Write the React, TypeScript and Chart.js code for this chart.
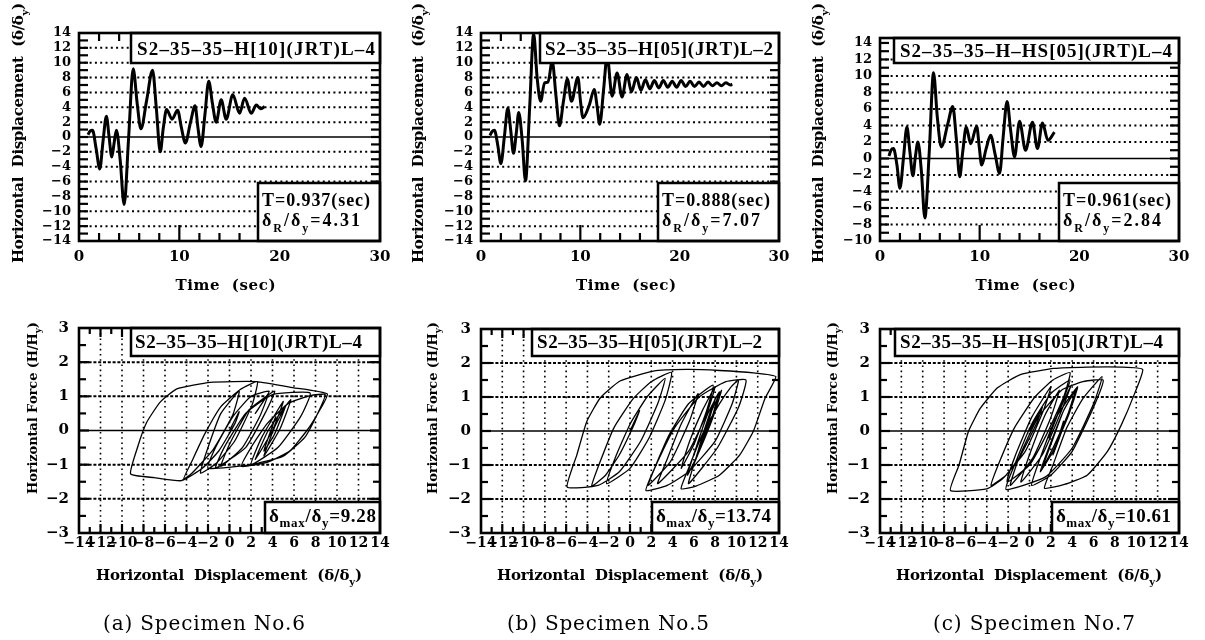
import React, { useEffect, useRef } from 'react';
import { Chart, registerables } from 'chart.js';

Chart.register(...registerables);

// ---------------- tick labels ----------------
const timeTicks = [0, 10, 20, 30];
const dispTicksFull = [-14, -12, -10, -8, -6, -4, -2, 0, 2, 4, 6, 8, 10, 12, 14];
const dispTicksShort = [-10, -8, -6, -4, -2, 0, 2, 4, 6, 8, 10, 12, 14];
const forceTicks = [-3, -2, -1, 0, 1, 2, 3];
const loopDispTicks = [-14, -12, -10, -8, -6, -4, -2, 0, 2, 4, 6, 8, 10, 12, 14];

// ---------------- text ----------------
const captions = ['(a) Specimen No.6', '(b) Specimen No.5', '(c) Specimen No.7'];
const specimenNames = ['S2\u201335\u201335\u2013H[10](JRT)L\u20134', 'S2\u201335\u201335\u2013H[05](JRT)L\u20132', 'S2\u201335\u201335\u2013H\u2013HS[05](JRT)L\u20134'];
const periods = ['0.937', '0.888', '0.961'];
const residuals = ['4.31', '7.07', '2.84'];
const maxima = ['9.28', '13.74', '10.61'];

// ---------------- specimen No.6 time history ----------------
const th6Time = [0.9, 1.1, 1.35, 1.7, 2.07, 2.4, 2.73, 3.0, 3.27, 3.5, 3.73, 4.1, 4.5, 4.95, 5.4, 5.8, 6.17, 6.75, 7.33, 7.7, 8.1, 8.4, 8.73, 9.27, 9.83, 10.2, 10.6, 11.1, 11.57, 11.85, 12.17, 12.55, 12.93, 13.3, 13.67, 14.17, 14.67, 15.33, 16.0, 16.5, 17.17, 17.67, 18.1, 18.5];
const th6Disp = [0.3, 0.8, 0.9, -1.5, -4.3, -0.5, 2.8, 0.0, -2.7, -0.8, 0.9, -3.0, -9.1, 0.0, 9.2, 4.5, 1.1, 5.0, 9.0, 4.0, -2.0, 1.2, 3.7, 2.4, 3.6, 1.3, -0.8, 1.9, 4.2, 1.3, -1.3, 3.0, 7.5, 4.5, 2.0, 5.0, 2.4, 5.7, 3.2, 5.2, 3.2, 4.3, 3.8, 4.1];

// ---------------- specimen No.5 time history ----------------
const th5Time = [0.9, 1.1, 1.35, 1.7, 2.0, 2.35, 2.7, 3.0, 3.27, 3.55, 3.8, 4.15, 4.48, 4.9, 5.3, 5.65, 6.0, 6.4, 6.75, 7.17, 7.55, 7.9, 8.3, 8.7, 9.1, 9.76, 10.0, 10.27, 10.9, 11.4, 11.7, 11.95, 12.35, 12.7, 13.2, 13.7, 14.2, 14.7, 15.15, 15.65, 16.1, 16.55, 17.0, 17.45, 17.9, 18.35, 18.8, 19.25, 19.7, 20.15, 20.6, 21.05, 21.5, 21.95, 22.4, 22.85, 23.3, 23.75, 24.2, 24.65, 25.1, 25.3];
const th5Disp = [0.2, 0.7, 0.9, -1.2, -3.6, 0.0, 3.9, 0.8, -2.2, 0.5, 3.3, -0.5, -5.9, 4.0, 13.9, 8.0, 4.8, 7.3, 7.4, 10.2, 5.5, 1.5, 4.8, 7.8, 4.8, 8.0, 5.0, 2.6, 4.3, 6.4, 4.0, 1.7, 6.5, 10.9, 5.5, 8.6, 5.4, 8.4, 6.1, 8.0, 6.3, 7.7, 6.5, 7.6, 6.6, 7.6, 6.7, 7.5, 6.7, 7.6, 6.8, 7.5, 6.8, 7.4, 6.8, 7.4, 6.9, 7.3, 6.9, 7.3, 7.0, 7.1];

// ---------------- specimen No.7 time history ----------------
const th7Time = [0.9, 1.1, 1.35, 1.7, 2.0, 2.35, 2.7, 3.0, 3.3, 3.55, 3.8, 4.15, 4.5, 4.95, 5.37, 5.75, 6.15, 6.8, 7.3, 7.65, 8.0, 8.3, 8.65, 9.1, 9.7, 9.95, 10.2, 10.65, 11.1, 11.55, 12.0, 12.35, 12.75, 13.1, 13.5, 14.0, 14.6, 15.3, 15.8, 16.3, 16.85, 17.5];
const th7Disp = [0.3, 1.0, 1.2, -0.8, -3.6, 0.0, 3.8, 0.8, -2.1, 0.2, 2.0, -1.5, -7.2, 1.0, 10.4, 5.0, 1.4, 4.2, 6.3, 2.5, -2.2, 0.8, 3.8, 1.8, 3.9, 1.5, -0.8, 1.2, 2.8, 0.5, -1.8, 2.5, 6.9, 3.5, 0.2, 4.5, 1.0, 4.4, 1.2, 4.3, 2.2, 3.2];

// ---------------- specimen No.6 hysteresis ----------------
const hy6Disp = [
  0, 0.9,
  0.5, -1.0, -2.5, -4.3,
  -3.5, -2.3, -0.8, 1.0, 2.6,
  2.1, 0.5, -1.2, -2.7,
  -2.0, -0.8, 0.9,
  0.3, -1.5, -3.5, -4.5, -7.0, -9.2,
  -8.5, -7.7, -6.45, -4.9, -1.8, 2.5, 6.0, 9.1,
  8.4, 7.2, 5.6, 3.5, 1.1,
  2.0, 3.5, 5.5, 7.5, 8.9,
  8.2, 7.0, 5.0, 2.0, -2.0,
  -1.3, 0.3, 2.0, 3.7,
  2.4,
  3.6,
  2.8, 1.2, -0.8,
  0.0, 1.8, 4.2,
  3.3, 1.5, -1.3,
  -0.5, 1.5, 4.0, 7.5,
  6.6, 4.5, 2.0,
  3.0, 5.0,
  4.0, 2.4,
  3.6, 5.7,
  4.7, 3.2,
  4.2, 5.2,
  4.2, 3.2,
  4.3, 4.1,
];
const hy6Force = [
  0, 0.55,
  0.2, -0.6, -1.1, -1.45,
  -0.9, -0.1, 0.7, 1.2, 1.43,
  0.75, -0.3, -0.95, -1.25,
  -0.5, 0.5, 1.15,
  0.45, -0.55, -1.25, -1.47, -1.38, -1.27,
  -0.44, 0.24, 0.83, 1.22, 1.41, 1.43, 1.25, 1.07,
  0.6, 0.0, -0.6, -0.93, -1.05,
  -0.5, 0.2, 0.8, 1.02, 1.05,
  0.5, -0.2, -0.75, -1.0, -1.1,
  -0.5, 0.4, 1.0, 1.15,
  0.5,
  1.05,
  0.4, -0.5, -1.05,
  -0.4, 0.6, 1.15,
  0.5, -0.5, -1.1,
  -0.5, 0.5, 1.05, 1.1,
  0.4, -0.5, -1.0,
  -0.2, 0.85,
  0.0, -0.85,
  0.0, 0.9,
  0.05, -0.75,
  0.1, 0.7,
  -0.1, -0.6,
  0.4, 0.25,
];

// ---------------- specimen No.5 hysteresis ----------------
const hy5Disp = [
  0, 0.9,
  0.4, -1.0, -2.3, -3.6,
  -2.8, -1.5, 0.3, 2.0, 3.9,
  3.3, 1.8, 0.0, -2.2,
  -1.4, 0.0, 1.6, 3.3,
  2.6, 1.0, -1.0, -3.0, -5.9,
  -5.0, -4.06, -2.8, -0.94, 2.2, 5.3, 8.4, 11.6, 13.7,
  12.7, 11.6, 10.3, 8.4, 6.2, 4.8,
  5.5, 6.8, 8.4, 9.5, 10.2,
  9.6, 8.0, 5.5, 3.5, 1.5,
  2.3, 3.7, 5.5, 7.8,
  7.2, 6.0, 4.8,
  5.6, 6.8, 8.0,
  7.2, 5.5, 2.6,
  3.4, 4.8, 6.4,
  5.6, 3.8, 1.7,
  2.6, 4.2, 6.5, 9.0, 10.9,
  10.2, 8.2, 5.5,
  6.3, 7.4, 8.6,
  7.8, 6.5, 5.4,
  6.3, 7.3, 8.4,
  7.6, 6.1,
  7.0, 8.0,
  7.2, 6.3,
  7.0, 7.7,
  6.6, 7.6, 6.7, 7.5, 6.8, 7.5, 6.8, 7.4, 6.9, 7.3, 7.07,
];
const hy5Force = [
  0, 0.6,
  0.2, -0.7, -1.3, -1.62,
  -0.9, 0.1, 0.95, 1.45, 1.72,
  0.9, -0.2, -1.1, -1.55,
  -0.8, 0.2, 1.0, 1.55,
  0.8, -0.3, -1.2, -1.6, -1.65,
  -0.71, 0.28, 0.97, 1.47, 1.76, 1.81, 1.78, 1.71, 1.6,
  0.97, 0.0, -0.71, -1.3, -1.62, -1.7,
  -1.1, -0.1, 0.8, 1.3, 1.5,
  0.8, -0.3, -1.2, -1.6, -1.75,
  -1.1, -0.1, 0.8, 1.35,
  0.6, -0.4, -1.1,
  -0.3, 0.6, 1.3,
  0.5, -0.6, -1.55,
  -0.9, 0.2, 1.1,
  0.3, -0.9, -1.6,
  -0.9, 0.1, 1.0, 1.45, 1.5,
  0.7, -0.5, -1.55,
  -0.7, 0.4, 1.2,
  0.4, -0.6, -1.3,
  -0.4, 0.5, 1.15,
  0.3, -0.9,
  0.0, 0.95,
  0.1, -0.7,
  0.05, 0.7,
  -0.5, 0.55, -0.45, 0.45, -0.35, 0.35, -0.3, 0.3, -0.25, 0.2, 0.0,
];

// ---------------- specimen No.7 hysteresis ----------------
const hy7Disp = [
  0, 1.2,
  0.7, -0.8, -2.2, -3.6,
  -2.8, -1.4, 0.5, 2.2, 3.8,
  3.2, 1.6, 0.0, -2.1,
  -1.3, 0.2, 2.0,
  1.3, -0.4, -2.5, -4.0, -7.4,
  -6.6, -5.7, -4.6, -3.0, -0.85, 2.3, 5.4, 8.6, 10.6,
  9.8, 8.6, 7.3, 5.4, 3.2, 1.4,
  2.2, 3.5, 5.0, 6.8,
  6.0, 4.0, 1.5, -2.2,
  -1.4, 0.2, 2.0, 3.8,
  3.0, 1.8,
  2.8, 3.9,
  3.0, 1.2, -0.8,
  0.0, 1.5, 2.8,
  2.0, 0.3, -1.8,
  -1.0, 0.8, 3.0, 5.0, 6.9,
  6.0, 4.0, 2.0, 0.2,
  1.0, 2.5, 4.5,
  3.7, 2.2, 1.0,
  1.8, 3.2, 4.4,
  3.6, 2.2, 1.2,
  2.0, 3.2, 4.3,
  3.5, 2.2,
  2.9, 3.2,
];
const hy7Force = [
  0, 0.7,
  0.25, -0.7, -1.3, -1.6,
  -0.9, 0.1, 1.0, 1.5, 1.72,
  1.0, -0.1, -1.0, -1.5,
  -0.7, 0.4, 1.3,
  0.6, -0.6, -1.4, -1.7, -1.75,
  -1.0, 0.0, 0.67, 1.27, 1.66, 1.84, 1.88, 1.88, 1.81,
  1.07, 0.18, -0.6, -1.3, -1.58, -1.68,
  -1.0, 0.1, 0.95, 1.6,
  0.8, -0.5, -1.35, -1.72,
  -1.0, 0.2, 1.1, 1.5,
  0.8, -0.2,
  0.6, 1.35,
  0.6, -0.7, -1.5,
  -0.7, 0.5, 1.2,
  0.4, -0.8, -1.6,
  -0.8, 0.4, 1.2, 1.45, 1.5,
  0.7, -0.6, -1.3, -1.6,
  -0.8, 0.4, 1.3,
  0.5, -0.6, -1.2,
  -0.5, 0.6, 1.25,
  0.5, -0.5, -1.1,
  -0.4, 0.6, 1.2,
  0.4, -0.7,
  0.0, 0.3,
];

// ---------------- drawing helpers ----------------
type Part = [string, number];
const FAM_AX = '"DejaVu Serif", serif';
const FAM_TX = '"Liberation Serif", serif';

function drawParts(ctx: CanvasRenderingContext2D, parts: Part[], x: number, baseline: number, size: number, weight: string, family: string, targetW?: number, align: 'left' | 'center' = 'left') {
  const chars: { c: string; sub: boolean; w: number }[] = [];
  const fontOf = (sub: boolean) => `${weight} ${sub ? Math.round(size * 0.68) : size}px ${family}`;
  for (const [s, sub] of parts) {
    for (const c of Array.from(s)) {
      ctx.font = fontOf(!!sub);
      chars.push({ c, sub: !!sub, w: ctx.measureText(c).width });
    }
  }
  const nat = chars.reduce((a, ch) => a + ch.w, 0);
  const total = targetW ?? nat;
  const ls = chars.length > 1 ? (total - nat) / (chars.length - 1) : 0;
  let cx = align === 'center' ? x - total / 2 : x;
  ctx.textAlign = 'left';
  ctx.textBaseline = 'alphabetic';
  ctx.fillStyle = '#000';
  for (const ch of chars) {
    ctx.font = fontOf(ch.sub);
    ctx.fillText(ch.c, cx, baseline + (ch.sub ? size * 0.3 : 0));
    cx += ch.w + ls;
  }
}

type Frame = { l: number; t: number; r: number; b: number };
interface TextLine { parts: Part[]; x: number; cy: number; w: number; size: number }
interface Spec {
  kind: 'time' | 'loop';
  frame: Frame;
  canvas: { x: number; y: number; w: number; h: number };
  xs: number[]; ys: number[];
  xMin: number; xMax: number; yMin: number; yMax: number;
  xTicks: number[]; yTicks: number[];
  xFont: number; yFont: number; xPad: number; yPad: number;
  titleBox: { l: number; b: number };
  title: TextLine;
  infoBox: { l: number; t: number };
  info: TextLine[];
  yTitle: { parts: Part[]; cx: number; cy: number; len: number; size: number };
  xTitle: { parts: Part[]; cx: number; cy: number; w: number };
  caption?: { text: string; cx: number; cy: number; w: number };
}

const dispTitle: Part[] = [['Horizontal  Displacement  (\u03b4/\u03b4', 0], ['y', 1], [')', 0]];
const forceTitle: Part[] = [['Horizontal Force (H/H', 0], ['y', 1], [')', 0]];
const timeTitle: Part[] = [['Time  (sec)', 0]];

const topFrames: Frame[] = [
  { l: 79, t: 33, r: 380, b: 241 },
  { l: 481, t: 33, r: 779, b: 241 },
  { l: 880, t: 38, r: 1179, b: 241 },
];
const botFrames: Frame[] = [
  { l: 79, t: 328, r: 380, b: 533 },
  { l: 481, t: 329, r: 779, b: 533 },
  { l: 880, t: 329, r: 1179, b: 533 },
];
const canvasX = [0, 402, 801];
const canvasW = [400, 400, 404];

const thT = [th6Time, th5Time, th7Time];
const thD = [th6Disp, th5Disp, th7Disp];
const hyD = [hy6Disp, hy5Disp, hy7Disp];
const hyF = [hy6Force, hy5Force, hy7Force];

const topTitleBox = [131, 540, 894];
const topTitleText = [{ x: 137, w: 238 }, { x: 545, w: 228 }, { x: 900, w: 272 }];
const topInfoBox = [258, 658, 1059];
const botTitleBox = [131, 532, 895];
const botTitleText = [{ x: 135, w: 227 }, { x: 537, w: 225 }, { x: 900, w: 263 }];
const botInfoBox = [265, 652, 1052];
const botInfoW = [107, 115, 115];
const captionCx = [204, 608, 1034];
const yTitleTopCx = [18, 418, 818];
const yTitleBotCx = [32, 432, 832];
const xTitleBotCx = [229, 630, 1029];

const specs: Spec[] = [];
for (let i = 0; i < 3; i++) {
  const f = topFrames[i];
  specs.push({
    kind: 'time', frame: f,
    canvas: { x: canvasX[i], y: 0, w: canvasW[i], h: 300 },
    xs: thT[i], ys: thD[i],
    xMin: 0, xMax: 30,
    yMin: i === 2 ? -10 : -14, yMax: i === 2 ? 14.6 : 14,
    xTicks: timeTicks, yTicks: i === 2 ? dispTicksShort : dispTicksFull,
    xFont: 15, yFont: 13, xPad: 7, yPad: 8,
    titleBox: { l: topTitleBox[i], b: 63 },
    title: { parts: [[specimenNames[i], 0]], x: topTitleText[i].x, cy: i === 2 ? 51 : 49, w: topTitleText[i].w, size: 19 },
    infoBox: { l: topInfoBox[i], t: 183 },
    info: [
      { parts: [['T=' + periods[i] + '(sec)', 0]], x: topInfoBox[i] + 4, cy: 201, w: 108, size: 18 },
      { parts: [['\u03b4', 0], ['R', 1], ['/\u03b4', 0], ['y', 1], ['=' + residuals[i], 0]], x: topInfoBox[i] + 4, cy: 221, w: 98, size: 18 },
    ],
    yTitle: { parts: dispTitle, cx: yTitleTopCx[i], cy: 133, len: 260, size: 15 },
    xTitle: { parts: timeTitle, cx: (f.l + f.r) / 2 - 4, cy: 285, w: 100 },
  });
}
for (let i = 0; i < 3; i++) {
  const f = botFrames[i];
  specs.push({
    kind: 'loop', frame: f,
    canvas: { x: canvasX[i], y: 290, w: canvasW[i], h: 350 },
    xs: hyD[i], ys: hyF[i],
    xMin: -14, xMax: 14, yMin: -3, yMax: 3,
    xTicks: loopDispTicks, yTicks: forceTicks,
    xFont: 14, yFont: 15, xPad: 2, yPad: 10,
    titleBox: { l: botTitleBox[i], b: 356 },
    title: { parts: [[specimenNames[i], 0]], x: botTitleText[i].x, cy: 342, w: botTitleText[i].w, size: 19 },
    infoBox: { l: botInfoBox[i], t: 502 },
    info: [
      { parts: [['\u03b4', 0], ['max', 1], ['/\u03b4', 0], ['y', 1], ['=' + maxima[i], 0]], x: botInfoBox[i] + 4, cy: 516, w: botInfoW[i], size: 19 },
    ],
    yTitle: { parts: forceTitle, cx: yTitleBotCx[i], cy: 408, len: 172, size: 13 },
    xTitle: { parts: dispTitle, cx: xTitleBotCx[i], cy: 575, w: 266 },
    caption: { text: captions[i], cx: captionCx[i], cy: 623, w: 202 },
  });
}

const fmt = (v: number) => (v < 0 ? '\u2212' + Math.abs(v) : String(v));

function buildChart(canvas: HTMLCanvasElement, s: Spec) {
  const fr = s.frame, cv = s.canvas;
  const L = fr.l - cv.x, T = fr.t - cv.y, R = cv.x + cv.w - fr.r, B = cv.y + cv.h - fr.b;
  const lx = (X: number) => X - cv.x;
  const ly = (Y: number) => Y - cv.y;
  const isTime = s.kind === 'time';
  const data = s.xs.map((x, i) => ({ x, y: s.ys[i] }));

  const decor = {
    id: 'decor',
    beforeDatasetsDraw(chart: any) {
      const ctx: CanvasRenderingContext2D = chart.ctx;
      const { left, right, top, bottom } = chart.chartArea;
      const X = (v: number) => chart.scales.x.getPixelForValue(v);
      const Y = (v: number) => chart.scales.y.getPixelForValue(v);
      ctx.save();
      ctx.strokeStyle = '#000';
      const hline = (y: number) => { ctx.beginPath(); ctx.moveTo(left, y); ctx.lineTo(right, y); ctx.stroke(); };
      const vline = (x: number) => { ctx.beginPath(); ctx.moveTo(x, top); ctx.lineTo(x, bottom); ctx.stroke(); };
      if (isTime) {
        ctx.lineWidth = 2; ctx.setLineDash([2, 3.3]);
        for (const v of s.yTicks) if (v !== 0 && v > s.yMin + 0.5 && v < s.yMax - 0.9) hline(Y(v));
      } else {
        ctx.lineWidth = 1.6; ctx.setLineDash([1.6, 3.6]);
        for (const v of s.xTicks) if (v > s.xMin + 0.5 && v < s.xMax - 0.5) vline(X(v));
        ctx.lineWidth = 2; ctx.setLineDash([3, 1.8]);
        for (const v of s.yTicks) if (v !== 0 && v > s.yMin + 0.5 && v < s.yMax - 0.5) hline(Y(v));
      }
      ctx.setLineDash([]); ctx.lineWidth = 1.5; hline(Y(0));
      ctx.restore();
    },
    afterDatasetsDraw(chart: any) {
      const ctx: CanvasRenderingContext2D = chart.ctx;
      const { left, right, top, bottom } = chart.chartArea;
      const X = (v: number) => chart.scales.x.getPixelForValue(v);
      const Y = (v: number) => chart.scales.y.getPixelForValue(v);
      ctx.save();
      ctx.strokeStyle = '#000';
      ctx.setLineDash([]);
      const seg = (x1: number, y1: number, x2: number, y2: number) => { ctx.beginPath(); ctx.moveTo(x1, y1); ctx.lineTo(x2, y2); ctx.stroke(); };
      // inner tick marks
      ctx.lineWidth = 2.2;
      if (isTime) {
        for (let v = Math.ceil(s.yMin) + 1; v < s.yMax; v++) {
          const y = Y(v); seg(left, y, left + 9, y); seg(right - 9, y, right, y);
        }
        for (let v = s.xMin + 2; v < s.xMax; v += 2) {
          const x = X(v); const big = v % 10 === 0;
          seg(x, bottom, x, bottom - (big ? 16 : 8)); seg(x, top, x, top + (big ? 12 : 8));
        }
      } else {
        for (let v = s.yMin + 0.5; v < s.yMax; v += 0.5) {
          const y = Y(v); const len = Number.isInteger(v) ? 10 : 7;
          seg(left, y, left + len, y); seg(right - len, y, right, y);
        }
        for (let v = s.xMin + 1; v < s.xMax; v++) {
          const x = X(v); const len = v % 2 === 0 ? 9 : 6;
          seg(x, bottom, x, bottom - len); seg(x, top, x, top + len);
        }
      }
      // boxes
      ctx.lineWidth = 2.5;
      ctx.fillStyle = '#fff';
      const tb = { x: lx(s.titleBox.l), y: top, w: right - lx(s.titleBox.l), h: ly(s.titleBox.b) - top };
      ctx.fillRect(tb.x, tb.y, tb.w, tb.h); ctx.strokeRect(tb.x, tb.y, tb.w, tb.h);
      const ib = { x: lx(s.infoBox.l), y: ly(s.infoBox.t), w: right - lx(s.infoBox.l), h: bottom - ly(s.infoBox.t) };
      ctx.fillRect(ib.x, ib.y, ib.w, ib.h); ctx.strokeRect(ib.x, ib.y, ib.w, ib.h);
      // frame
      ctx.lineWidth = 2.6;
      ctx.strokeRect(left, top, right - left, bottom - top);
      // box texts
      const t = s.title;
      drawParts(ctx, t.parts, lx(t.x), ly(t.cy) + t.size * 0.33, t.size, 'bold', FAM_TX, t.w);
      for (const ln of s.info) drawParts(ctx, ln.parts, lx(ln.x), ly(ln.cy) + ln.size * 0.3, ln.size, 'bold', FAM_TX, ln.w);
      // axis titles
      const AX = 15;
      const yt = s.yTitle;
      ctx.save();
      ctx.translate(lx(yt.cx), ly(yt.cy));
      ctx.rotate(-Math.PI / 2);
      drawParts(ctx, yt.parts, 0, yt.size * 0.36, yt.size, 'bold', FAM_AX, yt.len, 'center');
      ctx.restore();
      const xt = s.xTitle;
      drawParts(ctx, xt.parts, lx(xt.cx), ly(xt.cy) + AX * 0.36, AX, 'bold', FAM_AX, xt.w, 'center');
      if (s.caption) {
        const c = s.caption;
        drawParts(ctx, [[c.text, 0]], lx(c.cx), ly(c.cy) + 20 * 0.36, 20, 'normal', FAM_AX, c.w, 'center');
      }
      ctx.restore();
    },
  };

  return new Chart(canvas, {
    type: 'scatter',
    data: {
      datasets: [{
        data,
        showLine: true,
        borderColor: '#000',
        backgroundColor: '#000',
        borderWidth: isTime ? 3 : 1.3,
        pointRadius: 0,
        tension: isTime ? 0.4 : 0.15,
        cubicInterpolationMode: isTime ? 'monotone' : 'default',
        fill: false,
      } as any],
    },
    options: {
      responsive: false,
      animation: false,
      devicePixelRatio: 1,
      events: [],
      layout: { padding: { left: 0, top: T, right: R, bottom: 0 } },
      plugins: { legend: { display: false }, tooltip: { enabled: false } },
      scales: {
        x: {
          type: 'linear', min: s.xMin, max: s.xMax,
          afterBuildTicks: (sc: any) => { sc.ticks = s.xTicks.map((v) => ({ value: v })); },
          afterFit: (sc: any) => { sc.height = B; },
          grid: { display: false, drawTicks: false },
          border: { display: false },
          ticks: {
            autoSkip: false, maxRotation: 0, minRotation: 0, padding: s.xPad, color: '#000',
            font: { family: FAM_AX, size: s.xFont, weight: 'bold' },
            callback: (v: any) => fmt(Number(v)),
          },
        },
        y: {
          type: 'linear', min: s.yMin, max: s.yMax,
          afterBuildTicks: (sc: any) => { sc.ticks = s.yTicks.map((v) => ({ value: v })); },
          afterFit: (sc: any) => { sc.width = L; },
          grid: { display: false, drawTicks: false },
          border: { display: false },
          ticks: {
            autoSkip: false, padding: s.yPad, color: '#000',
            font: { family: FAM_AX, size: s.yFont, weight: 'bold' },
            callback: (v: any) => fmt(Number(v)),
          },
        },
      },
    } as any,
    plugins: [decor],
  });
}

export default function App() {
  const refs = useRef<(HTMLCanvasElement | null)[]>([]);
  useEffect(() => {
    const charts = specs.map((s, i) => buildChart(refs.current[i] as HTMLCanvasElement, s));
    return () => charts.forEach((c) => c.destroy());
  }, []);
  return (
    <div style={{ position: 'absolute', left: 0, top: 0, width: 1205, height: 640, background: '#fff', overflow: 'hidden' }}>
      {specs.map((s, i) => (
        <canvas
          key={i}
          ref={(el) => { refs.current[i] = el; }}
          width={s.canvas.w}
          height={s.canvas.h}
          style={{ position: 'absolute', left: s.canvas.x, top: s.canvas.y, width: s.canvas.w, height: s.canvas.h }}
        />
      ))}
    </div>
  );
}
